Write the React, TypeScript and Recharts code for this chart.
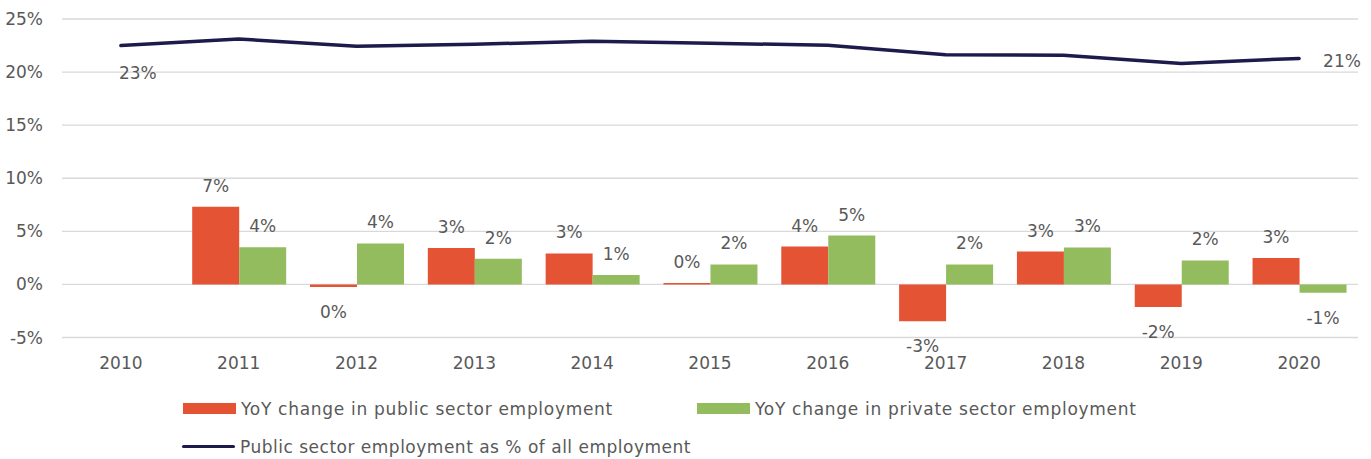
import React from 'react';
import { ComposedChart, Bar, Line, XAxis, YAxis, CartesianGrid, Legend, LabelList } from 'recharts';

const years = ['2010', '2011', '2012', '2013', '2014', '2015', '2016', '2017', '2018', '2019', '2020'];
const publicChange = [null, 7.31, -0.25, 3.42, 2.92, 0.14, 3.57, -3.48, 3.1, -2.13, 2.5];
const privateChange = [null, 3.51, 3.86, 2.41, 0.89, 1.88, 4.6, 1.88, 3.48, 2.26, -0.78];
const publicShare = [22.5, 23.11, 22.44, 22.62, 22.9, 22.72, 22.53, 21.64, 21.59, 20.82, 21.29];
const yTicks = [-5, 0, 5, 10, 15, 20, 25];

const seriesNames = {
  pub: 'YoY change in public sector employment',
  priv: 'YoY change in private sector employment',
  share: 'Public sector employment as % of all employment',
};

const data = years.map((year, i) => ({
  year,
  pub: publicChange[i],
  priv: privateChange[i],
  share: publicShare[i],
}));

const FONT = '"DejaVu Sans", sans-serif';
const TEXT = '#595959';
const RED = '#e55335';
const GREEN = '#93bc5f';
const NAVY = '#1d1a4c';

const fmt = (v: number) => `${Math.round(v)}%`;

const BarLabel = (props: any) => {
  const { x, y, width, height, value } = props;
  if (value === null || value === undefined) return null;
  const top = Math.min(y, y + height);
  const bottom = Math.max(y, y + height);
  const cy = value >= 0 ? top - 21 : bottom + 25;
  return (
    <text x={x + width / 2} y={cy} textAnchor="middle" dominantBaseline="central"
      fill={TEXT} fontSize={17} fontFamily={FONT}>
      {fmt(value)}
    </text>
  );
};

const LineLabel = (props: any) => {
  const { x, y, value, index } = props;
  if (index === 0) {
    return (
      <text x={x - 2} y={y + 27} textAnchor="start" dominantBaseline="central"
        fill={TEXT} fontSize={17} fontFamily={FONT}>{fmt(value)}</text>
    );
  }
  if (index === years.length - 1) {
    return (
      <text x={x + 24} y={y + 2.5} textAnchor="start" dominantBaseline="central"
        fill={TEXT} fontSize={17} fontFamily={FONT}>{fmt(value)}</text>
    );
  }
  return null;
};

const legendPos: Record<string, { left: number; top: number; type: string; spacing: number }> = {
  pub: { left: 183, top: 29.5, type: 'rect', spacing: 0.7 },
  priv: { left: 697, top: 29.5, type: 'rect', spacing: 0.7 },
  share: { left: 182, top: 67.5, type: 'line', spacing: 0.5 },
};

const renderLegend = (props: any) => {
  const payload = props.payload || [];
  return (
    <div style={{ position: 'relative', width: 1371, height: 80, fontFamily: FONT, fontSize: 17, color: TEXT }}>
      {payload.map((p: any) => {
        const pos = legendPos[p.dataKey];
        if (!pos) return null;
        return (
          <div key={p.dataKey} style={{ position: 'absolute', left: pos.left, top: pos.top - 12, height: 24, display: 'flex', alignItems: 'center', whiteSpace: 'nowrap' }}>
            {pos.type === 'rect' ? (
              <span style={{ display: 'inline-block', width: 53, height: 11, background: p.color }} />
            ) : (
              <span style={{ display: 'inline-block', width: 53, height: 3.5, borderRadius: 2, background: p.color }} />
            )}
            <span style={{ marginLeft: 5, letterSpacing: pos.spacing }}>{seriesNames[p.dataKey as keyof typeof seriesNames]}</span>
          </div>
        );
      })}
    </div>
  );
};

export default function App() {
  return (
    <div style={{ position: 'absolute', left: 0, top: 0 }}>
      <ComposedChart width={1371} height={459} data={data}
        margin={{ top: 19, right: 13, left: 0, bottom: 0 }}
        barCategoryGap="10.5%" barGap={0}>
        <CartesianGrid vertical={false} stroke="#d9d9d9" strokeWidth={1.3} />
        <XAxis dataKey="year" axisLine={false} tickLine={false} tickSize={0} tickMargin={19} height={41.5}
          tick={{ fill: TEXT, fontSize: 17, fontFamily: FONT }} interval={0} />
        <YAxis domain={[-5, 25]} ticks={yTicks} axisLine={false} tickLine={false} tickSize={0} tickMargin={19}
          width={62} tickFormatter={(v: number) => `${v}%`}
          tick={{ fill: TEXT, fontSize: 17, fontFamily: FONT }} />
        <Legend verticalAlign="bottom" content={renderLegend}
          wrapperStyle={{ left: 0, bottom: 0, width: 1371, height: 80 }} />
        <Bar dataKey="pub" name={seriesNames.pub} fill={RED} isAnimationActive={false}>
          <LabelList dataKey="pub" content={BarLabel} />
        </Bar>
        <Bar dataKey="priv" name={seriesNames.priv} fill={GREEN} isAnimationActive={false}>
          <LabelList dataKey="priv" content={BarLabel} />
        </Bar>
        <Line dataKey="share" name={seriesNames.share} stroke={NAVY} strokeWidth={3.5} dot={false}
          strokeLinecap="round" isAnimationActive={false} activeDot={false}>
          <LabelList dataKey="share" content={LineLabel} />
        </Line>
      </ComposedChart>
    </div>
  );
}
